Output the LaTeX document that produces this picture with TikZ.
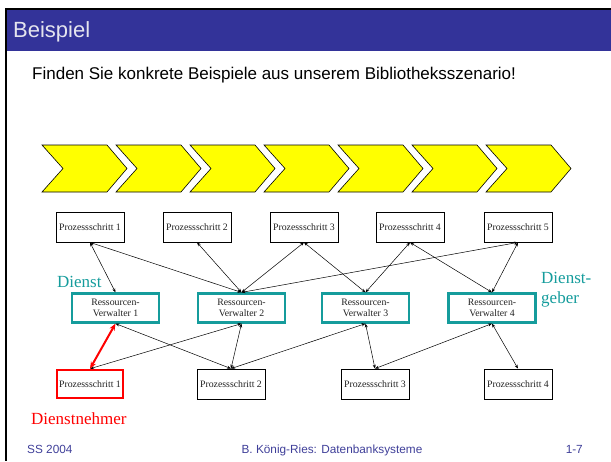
\documentclass[tikz,border=0pt]{standalone}
\usepackage{fontspec}
\setmainfont{Liberation Serif}
\setsansfont{Liberation Sans}
\newcommand{\sansall}{\sffamily}
\usepackage{xcolor}
\usepackage{tikz}
\usetikzlibrary{arrows.meta}
\definecolor{kopf}{HTML}{333399}
\definecolor{kopftext}{HTML}{E4E4EE}
\definecolor{fusstext}{HTML}{3F3F99}
\definecolor{dienst}{HTML}{159C9C}
\definecolor{nehmer}{HTML}{FF0000}
\definecolor{gelb}{HTML}{FFFF00}
\definecolor{ink}{HTML}{222222}
\tikzset{
  psb/.style={draw=black, line width=0.8pt, fill=white, minimum width=68pt,
              minimum height=30pt, inner sep=0pt, align=center, text=ink,
              font=\fontsize{9.8}{11}\selectfont},
  rvb/.style={psb, draw=dienst, line width=2.2pt, minimum width=87pt,
              minimum height=29pt},
  nhb/.style={psb, draw=nehmer, line width=2.6pt, minimum width=66pt,
              minimum height=28pt},
  ar/.style={{Stealth[length=4pt,width=3pt]}-{Stealth[length=4pt,width=3pt]},
             line width=0.5pt, draw=black},
  arrot/.style={{Stealth[length=7pt,width=5.5pt]}-{Stealth[length=7pt,width=5.5pt]},
             line width=2pt, draw=nehmer},
  chev/.style={draw=black, line width=0.6pt, fill=gelb},
  lbl/.style={font=\fontsize{17}{20}\selectfont, text=dienst, anchor=base west,
              inner sep=0pt, align=left},
  fusstxt/.style={font=\sansall\fontsize{11.8}{14}\selectfont, text=fusstext,
              anchor=base, inner sep=0pt},
}

\begin{document}
\begin{tikzpicture}[x=1pt, y=-1pt]
  \useasboundingbox (0,0) rectangle (611,461);
  % Rahmen und Kopfzeile
  \fill[black] (5,8) rectangle (611,10);
  \fill[black] (5,8) rectangle (7,461);
  \fill[kopf] (7,10) rectangle (611,51);
  \node[anchor=base west, inner sep=0pt, text=kopftext,
        font=\sansall\fontsize{22}{26}\selectfont] (titel) at (13,37) {Beispiel};
  \node[anchor=base west, inner sep=0pt,
        font=\sansall\fontsize{17}{20}\selectfont] (frage) at (32,79)
       {Finden Sie konkrete Beispiele aus unserem Bibliotheksszenario!};

  % Prozesskette
  \foreach \i in {0,...,6}
    \draw[chev] ({42+74*\i},145) -- ++(65,0) -- ++(20,23.5) -- ++(-20,23.5)
                -- ++(-65,0) -- ++(21,-23.5) -- cycle;

  % Prozessschritte oben
  \foreach \n/\x in {1/90, 2/197, 3/304, 4/410, 5/518}
    \node[psb] (ps\n) at (\x,227) {Prozessschritt \n};

  % Ressourcen-Verwalter
  \foreach \n/\x in {1/115.5, 2/241.5, 3/365.5, 4/492}
    \node[rvb] (rv\n) at (\x,308) {Ressourcen-\\Verwalter \n};

  % Prozessschritte unten
  \node[nhb] (pu1) at (90,384) {Prozessschritt 1};
  \foreach \n/\x in {2/231, 3/375, 4/518}
    \node[psb] (pu\n) at (\x,384) {Prozessschritt \n};

  % Verbindungen
  \foreach \a/\b in {ps1/rv1, ps1/rv2, ps2/rv2, ps3/rv2, ps3/rv3,
                     ps4/rv3, ps4/rv4, ps5/rv2, ps5/rv4}
    \draw[ar] (\a.south) -- (\b.north);
  \foreach \a/\b in {rv1/pu2, rv2/pu1, rv2/pu2, rv3/pu2, rv3/pu3,
                     rv4/pu3, rv4/pu4}
    \draw[ar] (\a.south) -- (\b.north);
  \draw[arrot] (rv1.south) -- (pu1.north);

  % Rollen
  \node[lbl] (dienst) at (57,287) {Dienst};
  \node[lbl] (geber) at (541,303) {Dienst-\\geber};
  \node[lbl, text=nehmer] (nehmer) at (31,424) {Dienstnehmer};

  % Fusszeile
  \node[fusstxt, anchor=base west] (sem) at (27,453) {SS 2004};
  \node[fusstxt] (autor) at (332,453) {B. König-Ries: Datenbanksysteme};
  \node[fusstxt, anchor=base east] (seite) at (583,453) {1-7};
\end{tikzpicture}
\end{document}
